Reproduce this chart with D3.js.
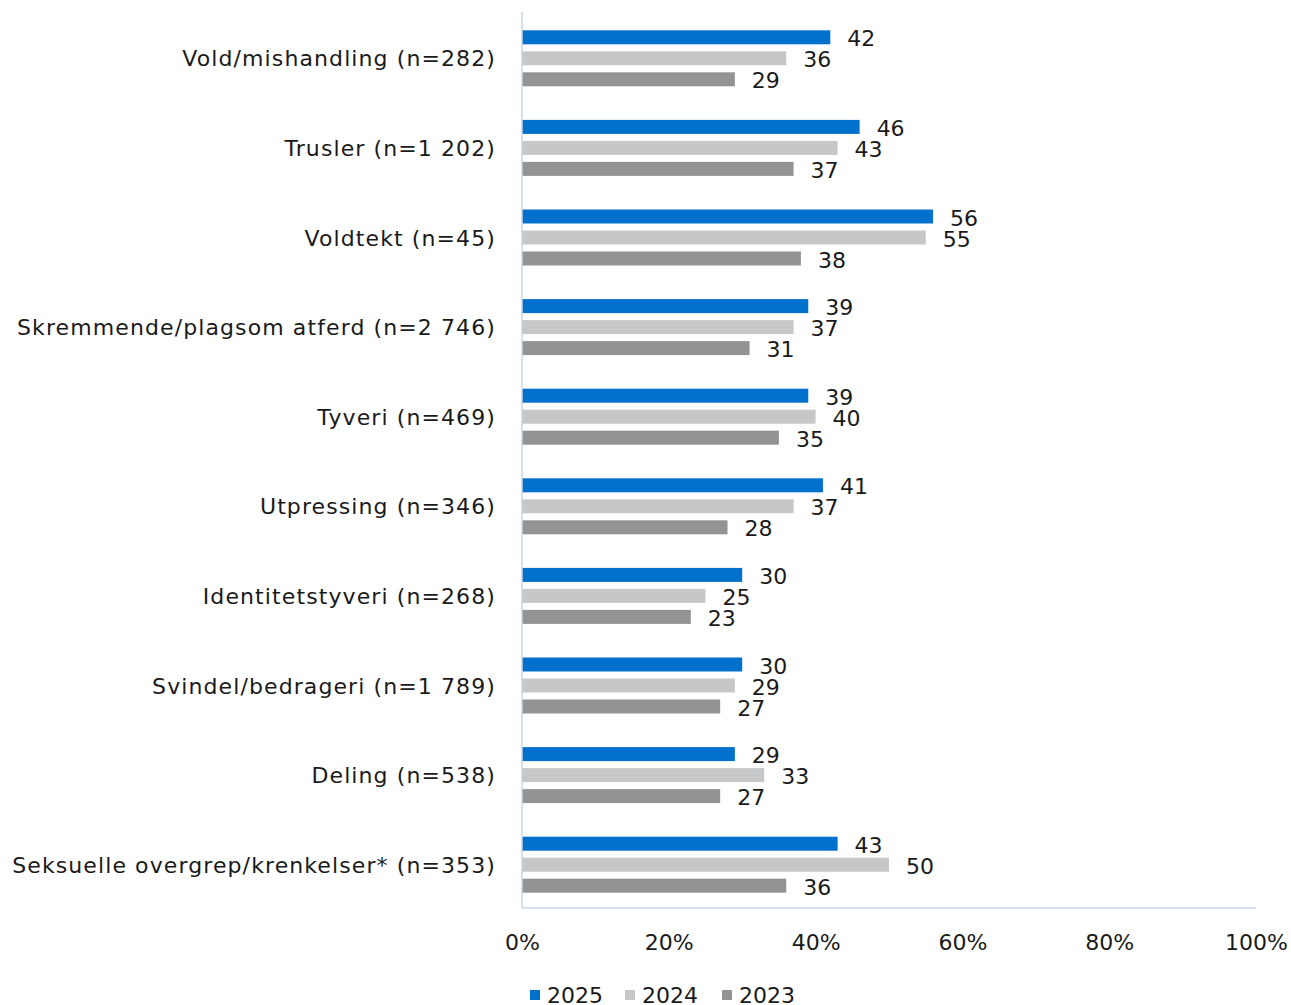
<!DOCTYPE html>
<html>
<head>
<meta charset="utf-8">
<script src="https://cdn.jsdelivr.net/npm/d3@7"></script>
<style>
  body { margin: 0; background: #fff; }
  svg text { font-family: "DejaVu Sans", sans-serif; fill: #1a1a1a; }
</style>
</head>
<body>
<svg id="chart" width="1291" height="1005"></svg>
<script>
// Categories (top to bottom) and share per year, in percent
const categories = [
  "Vold/mishandling (n=282)",
  "Trusler (n=1 202)",
  "Voldtekt (n=45)",
  "Skremmende/plagsom atferd (n=2 746)",
  "Tyveri (n=469)",
  "Utpressing (n=346)",
  "Identitetstyveri (n=268)",
  "Svindel/bedrageri (n=1 789)",
  "Deling (n=538)",
  "Seksuelle overgrep/krenkelser* (n=353)"
];
const years = ["2025", "2024", "2023"];
const values2025 = [42, 46, 56, 39, 39, 41, 30, 30, 29, 43];
const values2024 = [36, 43, 55, 37, 40, 37, 25, 29, 33, 50];
const values2023 = [29, 37, 38, 31, 35, 28, 23, 27, 27, 36];
const tickValues = [0, 20, 40, 60, 80, 100];
const colors = ["#0070CD", "#C6C7C8", "#939393"];

const seriesValues = { "2025": values2025, "2024": values2024, "2023": values2023 };

const svg = d3.select("#chart");
const plotLeft = 522, plotRight = 1256, plotTop = 12, plotBottom = 908;

const x = d3.scaleLinear().domain([0, 100]).range([plotLeft, plotRight]);
const p = 26.6 / 89.6;
const y0 = d3.scaleBand().domain(categories).range([plotTop + 1.5, plotBottom + 1.5])
  .paddingInner(p).paddingOuter(p / 2);
const y1 = d3.scaleBand().domain(years).range([0, y0.bandwidth()])
  .paddingInner(1 / 3).paddingOuter(1 / 6);
const color = d3.scaleOrdinal().domain(years).range(colors);

const rows = categories.map((c, i) => ({
  cat: c,
  bars: years.map(yr => ({ year: yr, value: seriesValues[yr][i] }))
}));

const groups = svg.append("g").selectAll("g").data(rows).join("g")
  .attr("transform", d => `translate(0,${y0(d.cat)})`);

groups.selectAll("rect").data(d => d.bars).join("rect")
  .attr("x", x(0))
  .attr("y", d => y1(d.year))
  .attr("width", d => x(d.value) - x(0))
  .attr("height", y1.bandwidth())
  .attr("fill", d => color(d.year));

groups.selectAll("text.val").data(d => d.bars).join("text")
  .attr("class", "val")
  .attr("x", d => x(d.value) + 17)
  .attr("y", d => y1(d.year) + y1.bandwidth() / 2 + 9)
  .attr("font-size", 22)
  .text(d => d.value);

// Category labels
svg.append("g").selectAll("text").data(categories).join("text")
  .attr("x", 496)
  .attr("y", d => y0(d) + y0.bandwidth() / 2 + 8)
  .attr("text-anchor", "end")
  .attr("font-size", 22)
  .attr("letter-spacing", 1.1)
  .text(d => d);

// Axis lines
svg.append("line").attr("x1", plotLeft).attr("x2", plotLeft).attr("y1", plotTop).attr("y2", plotBottom)
  .attr("stroke", "#C9D5E3").attr("stroke-width", 1.5);
svg.append("line").attr("x1", plotLeft).attr("x2", plotRight).attr("y1", plotBottom).attr("y2", plotBottom)
  .attr("stroke", "#C9D5E3").attr("stroke-width", 1.5);

// X tick labels
const xAxis = d3.axisBottom(x).tickValues(tickValues).tickSize(0).tickPadding(0)
  .tickFormat(d => d + "%");
const ax = svg.append("g").attr("transform", `translate(0,${plotBottom + 26})`).call(xAxis);
ax.select(".domain").remove();
ax.selectAll("text").attr("font-size", 22).attr("fill", "#1a1a1a")
  .style("font-family", '"DejaVu Sans", sans-serif');

// Legend
const legendX = [530, 625, 722];
const legend = svg.append("g").selectAll("g").data(years).join("g")
  .attr("transform", (d, i) => `translate(${legendX[i]},990)`);
legend.append("rect").attr("width", 10).attr("height", 10).attr("fill", d => color(d));
legend.append("text").attr("x", 17).attr("y", 13).attr("font-size", 22).text(d => d);
</script>
</body>
</html>
